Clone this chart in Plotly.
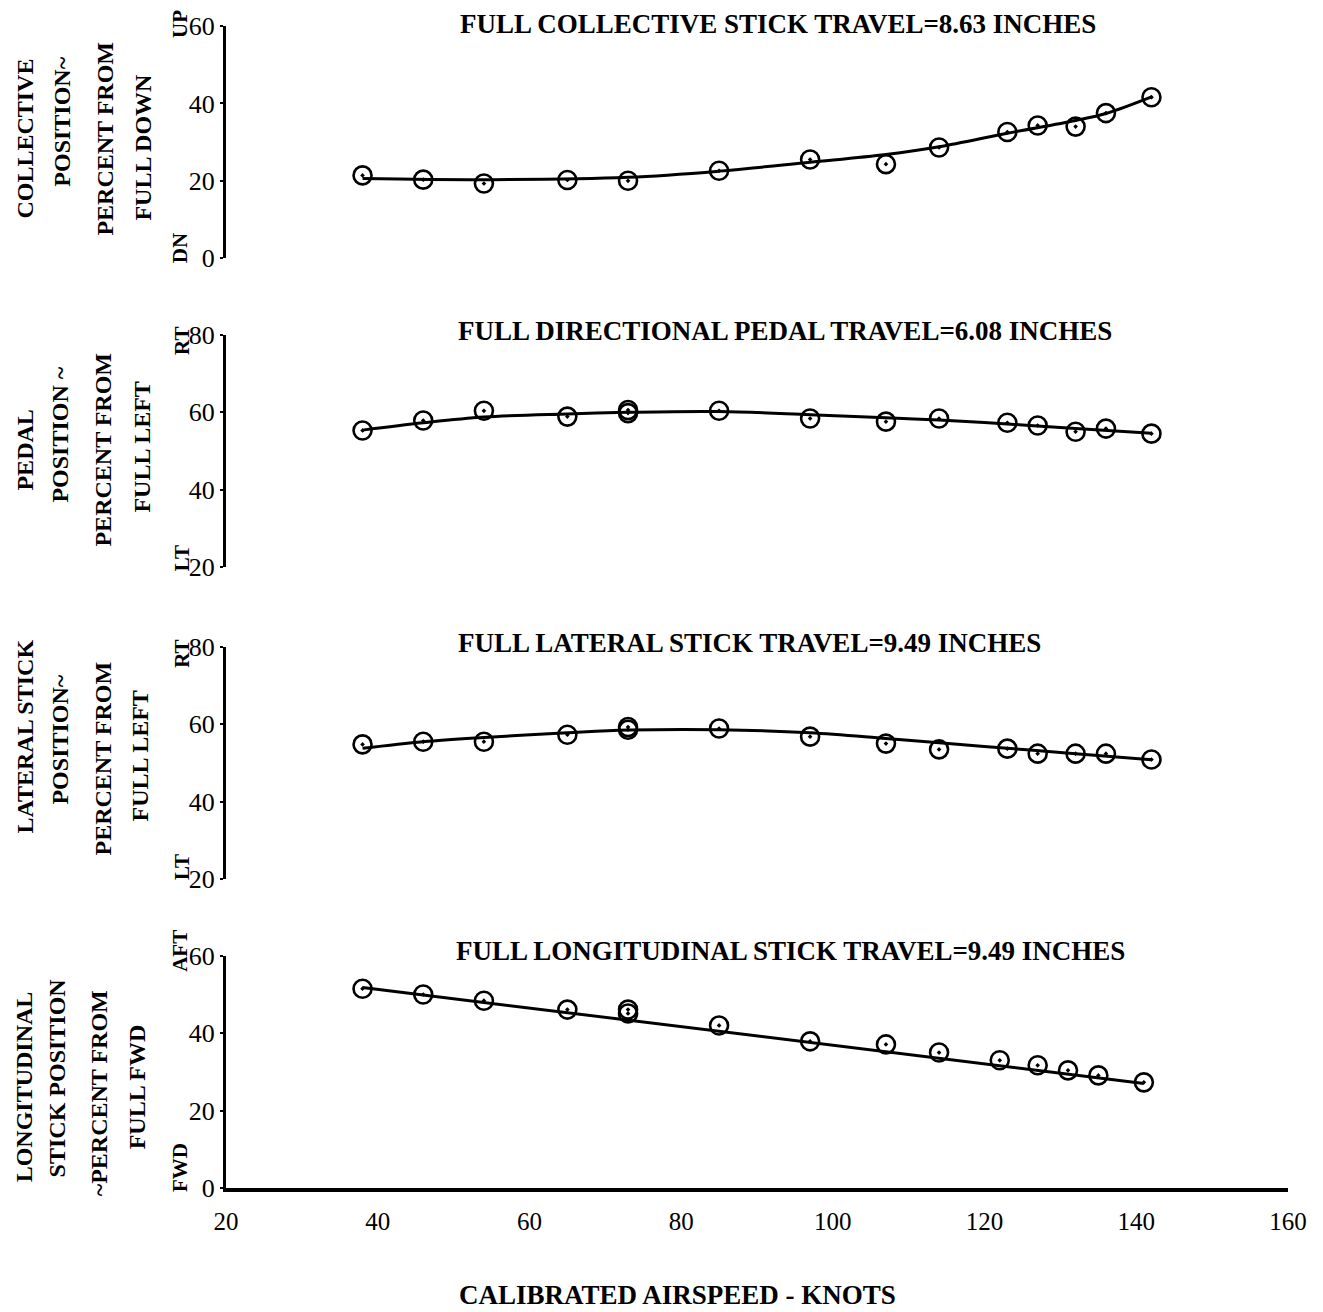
import plotly.graph_objects as go
from plotly.subplots import make_subplots

# ---- flight test data: calibrated airspeed (knots) vs control position (%) ----
airspeed = [38, 46, 54, 65, 73, 85, 97, 107, 114, 123, 127, 132, 136, 142]
airspeed_dup = [73]  # repeat point at 73 kt

collective = [21.4, 20.3, 19.3, 20.2, 20.0, 22.6, 25.5, 24.3, 28.6, 32.6, 34.3, 34.0, 37.5, 41.6]
collective_fair_x = [38, 55, 73, 85, 97, 107, 114, 123, 132, 136, 142]
collective_fair_y = [20.6, 20.3, 20.9, 22.5, 24.8, 26.8, 28.8, 32.3, 35.6, 37.4, 41.7]

pedal = [55.3, 57.9, 60.4, 58.9, 60.6, 60.4, 58.4, 57.6, 58.4, 57.3, 56.6, 55.0, 55.8, 54.5]
pedal_dup = [59.8]
pedal_fair_x = [38, 46, 54, 65, 73, 85, 97, 107, 114, 123, 132, 142]
pedal_fair_y = [55.4, 57.3, 58.8, 59.6, 60.0, 60.2, 59.4, 58.6, 58.0, 57.0, 55.8, 54.6]

lateral = [54.8, 55.5, 55.5, 57.3, 59.3, 58.9, 56.8, 55.0, 53.5, 53.7, 52.4, 52.4, 52.4, 50.9]
lateral_dup = [58.6]
lateral_fair_x = [38, 46, 54, 65, 73, 85, 97, 107, 114, 123, 132, 142]
lateral_fair_y = [53.8, 55.5, 56.6, 57.8, 58.5, 58.6, 57.8, 56.3, 55.2, 53.8, 52.4, 50.8]

airspeed_long = [38, 46, 54, 65, 73, 85, 97, 107, 114, 122, 127, 131, 135, 141]
longitudinal = [51.5, 50.0, 48.4, 46.1, 46.1, 42.0, 37.9, 37.1, 35.0, 33.0, 31.7, 30.4, 29.1, 27.3]
longitudinal_dup = [45.1]
long_fair_x = [38, 141]
long_fair_y = [51.8, 27.0]

panel_titles = [
    "FULL COLLECTIVE STICK TRAVEL=8.63 INCHES",
    "FULL DIRECTIONAL PEDAL TRAVEL=6.08 INCHES",
    "FULL LATERAL STICK TRAVEL=9.49 INCHES",
    "FULL LONGITUDINAL STICK TRAVEL=9.49 INCHES",
]
y_ranges = [[0, 60], [20, 80], [20, 80], [0, 60]]
y_ticks = [[0, 20, 40, 60], [20, 40, 60, 80], [20, 40, 60, 80], [0, 20, 40, 60]]
x_ticks = [20, 40, 60, 80, 100, 120, 140, 160]

# ---- layout geometry (pixels) ----
W, H = 1323, 1312
L, R, T, B = 226, 35, 22, 124
PW, PH = W - L - R, H - T - B
FONT = "Liberation Serif"


def py(p):
    """pixel row -> paper y"""
    return (H - B - p) / PH


def px(p):
    """pixel column -> paper x"""
    return (p - L) / PW


panel_px = [(22, 255), (332, 565), (645, 878), (955, 1188)]

fig = make_subplots(rows=4, cols=1, shared_xaxes=False)

series = [
    (airspeed, collective, [], [], collective_fair_x, collective_fair_y),
    (airspeed, pedal, airspeed_dup, pedal_dup, pedal_fair_x, pedal_fair_y),
    (airspeed, lateral, airspeed_dup, lateral_dup, lateral_fair_x, lateral_fair_y),
    (airspeed_long, longitudinal, airspeed_dup, longitudinal_dup, long_fair_x, long_fair_y),
]

marker = dict(symbol="circle-open-dot", size=18, color="black", line=dict(width=2.6, color="black"))

for i, (xs, ys, dx, dy, fx, fy) in enumerate(series, start=1):
    fig.add_trace(go.Scatter(x=fx, y=fy, mode="lines",
                             line=dict(color="black", width=3, shape="spline", smoothing=1.0),
                             showlegend=False, hoverinfo="skip"), row=i, col=1)
    fig.add_trace(go.Scatter(x=xs, y=ys, mode="markers", marker=marker, showlegend=False),
                  row=i, col=1)
    if dx:
        fig.add_trace(go.Scatter(x=dx, y=dy, mode="markers", marker=marker, showlegend=False),
                      row=i, col=1)

for i in range(1, 5):
    top, bot = panel_px[i - 1]
    xa = "xaxis" if i == 1 else f"xaxis{i}"
    ya = "yaxis" if i == 1 else f"yaxis{i}"
    last = i == 4
    fig.layout[xa].update(
        domain=[0, 1], range=[20, 160], showgrid=False, zeroline=False,
        showline=last, linecolor="black", linewidth=4,
        showticklabels=last, tickvals=x_ticks, ticks="",
        ticklabelstandoff=8,
        tickfont=dict(family=FONT, size=25, color="black"),
    )
    fig.layout[ya].update(
        domain=[py(bot), py(top)], range=y_ranges[i - 1], showgrid=False, zeroline=False,
        showline=True, linecolor="black", linewidth=3,
        tickvals=y_ticks[i - 1], ticks="outside", ticklen=3, tickwidth=2, tickcolor="black",
        ticklabelstandoff=0,
        tickfont=dict(family=FONT, size=26, color="black"),
    )

annotations = []

# panel headings
title_pos = [(458, 20), (456, 328), (456, 641), (454, 950)]
for txt, (x0, y0) in zip(panel_titles, title_pos):
    annotations.append(dict(text=f"<b>{txt}</b>", xref="paper", yref="paper", x=px(x0), y=py(y0),
                            xanchor="left", yanchor="middle", showarrow=False,
                            font=dict(family=FONT, size=27, color="black")))

# rotated axis captions (text, column centre px, row centre px)
captions = [
    ("COLLECTIVE", 25, 135), ("POSITION~", 62, 118), ("PERCENT FROM", 105, 135), ("FULL DOWN", 143, 144),
    ("PEDAL", 25, 448), ("POSITION ~", 60, 432), ("PERCENT FROM", 103, 447), ("FULL LEFT", 142, 445),
    ("LATERAL STICK", 25, 735), ("POSITION~", 60, 738), ("PERCENT FROM", 103, 757), ("FULL LEFT", 140, 755),
    ("LONGITUDINAL", 24, 1087), ("STICK POSITION", 57, 1078), ("~PERCENT FROM", 99, 1093), ("FULL FWD", 137, 1087),
]
for txt, cx, cy in captions:
    annotations.append(dict(text=f"<b>{txt}</b>", xref="paper", yref="paper", x=px(cx), y=py(cy),
                            xanchor="center", yanchor="middle", textangle=-90, showarrow=False,
                            font=dict(family=FONT, size=24, color="black")))

# direction markers next to the scales
directions = [("UP", 180, 20), ("DN", 180, 245), ("RT", 182, 338), ("LT", 182, 556),
              ("RT", 182, 652), ("LT", 182, 866), ("AFT", 180, 950), ("FWD", 180, 1168)]
for txt, cx, cy in directions:
    annotations.append(dict(text=f"<b>{txt}</b>", xref="paper", yref="paper", x=px(cx), y=py(cy),
                            xanchor="center", yanchor="middle", textangle=-90, showarrow=False,
                            font=dict(family=FONT, size=21, color="black")))

# x-axis caption
annotations.append(dict(text="<b>CALIBRATED AIRSPEED - KNOTS</b>", xref="paper", yref="paper",
                        x=px(677), y=py(1295), xanchor="center", yanchor="middle", showarrow=False,
                        font=dict(family=FONT, size=27, color="black")))

fig.update_layout(
    width=W, height=H,
    margin=dict(l=L, r=R, t=T, b=B),
    paper_bgcolor="white", plot_bgcolor="white",
    annotations=annotations,
    showlegend=False,
)

fig.write_html("out.html")
